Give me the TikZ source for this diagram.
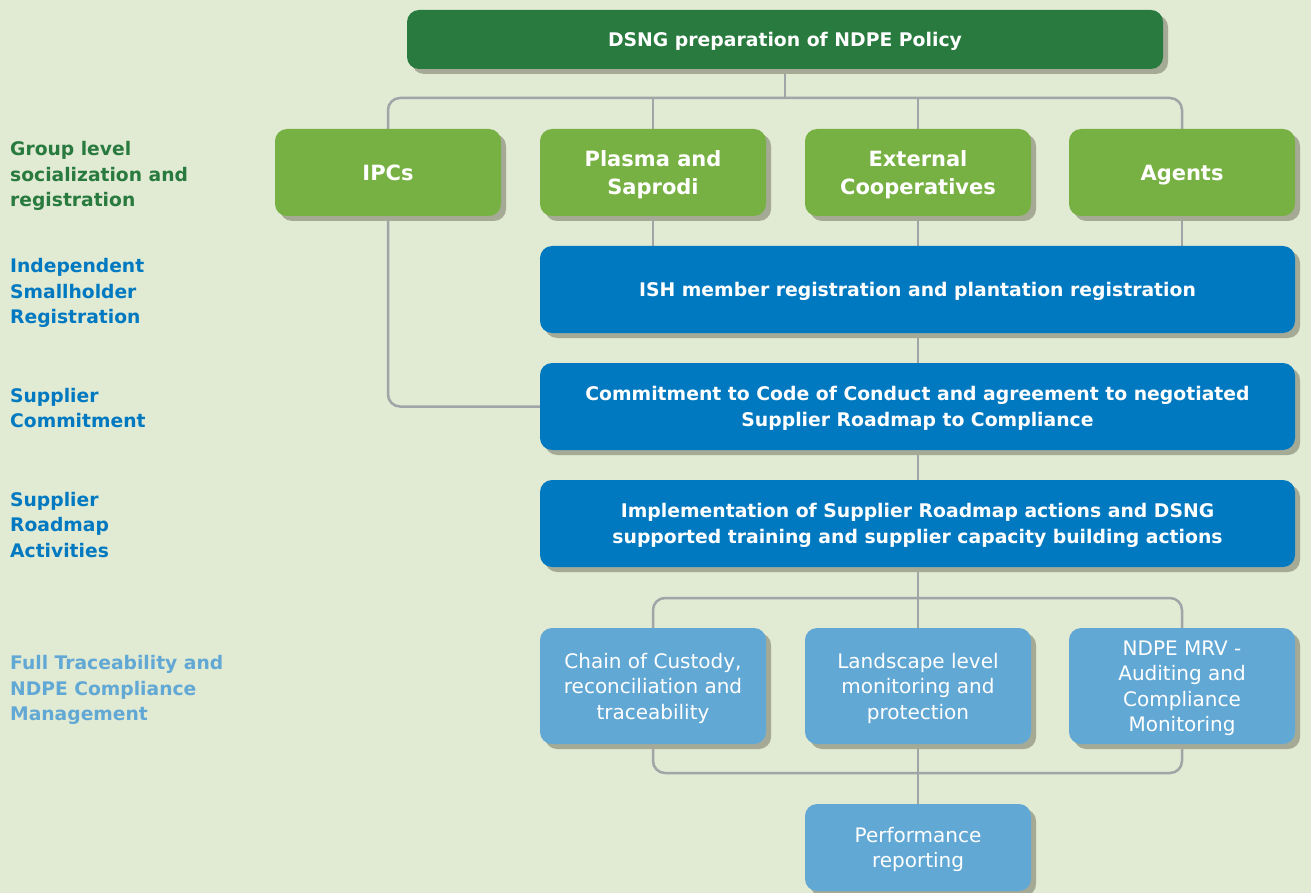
\documentclass[tikz,border=0pt]{standalone}
\usepackage{fontspec}
\setmainfont{DejaVu Sans}
\usepackage{xcolor}
\usetikzlibrary{positioning, shadows, calc}

\definecolor{sage}{HTML}{E1EAD3}
\definecolor{headgreen}{HTML}{287A3E}
\definecolor{leafgreen}{HTML}{78B143}
\definecolor{ocean}{HTML}{0079C1}
\definecolor{sky}{HTML}{62A8D5}
\definecolor{wiregray}{HTML}{A2A5A8}
\definecolor{shade}{HTML}{A5AA97}

\pgfdeclarelayer{canvas}
\pgfdeclarelayer{wires}
\pgfsetlayers{canvas,wires,main}

\begin{document}
\begin{tikzpicture}[
    x=1pt, y=-1pt,
    card/.style={
        rectangle,
        rounded corners=12pt,
        text=white,
        align=center,
        inner sep=0pt,
        text depth=-8pt,
        drop shadow={shadow xshift=5pt, shadow yshift=-5pt, fill=shade, opacity=1}
    },
    headbox/.style={
        card,
        fill=headgreen,
        minimum width=756pt,
        minimum height=59pt,
        font=\bfseries\fontsize{18.8}{25}\selectfont
    },
    groupbox/.style={
        card,
        fill=leafgreen,
        minimum width=226pt,
        minimum height=87pt,
        font=\bfseries\fontsize{21}{28}\selectfont
    },
    stagebox/.style={
        card,
        fill=ocean,
        minimum width=755pt,
        minimum height=87pt,
        font=\bfseries\fontsize{18.8}{26}\selectfont
    },
    taskbox/.style={
        card,
        fill=sky,
        minimum width=226pt,
        minimum height=116pt,
        font=\fontsize{20}{25.5}\selectfont
    },
    lane/.style={
        anchor=west,
        align=left,
        inner sep=0pt,
        font=\bfseries\fontsize{18.7}{25.5}\selectfont
    },
    wire/.style={
        draw=wiregray,
        line width=2.5pt,
        rounded corners=12pt
    }
]

    % =========================================================
    % CANVAS
    % =========================================================
    \useasboundingbox (0,0) rectangle (1311,893);
    \begin{pgfonlayer}{canvas}
        \fill [sage] (0,0) rectangle (1311,893);
    \end{pgfonlayer}

    % =========================================================
    % LEFT-HAND STAGE LABELS
    % =========================================================
    \node [lane, text=headgreen] (lgroup) at (10,176) {Group level\\socialization and\\registration};
    \node [lane, text=ocean] (lish) at (10,293) {Independent\\Smallholder\\Registration};
    \node [lane, text=ocean] (lcommit) at (10,408) {Supplier\\Commitment};
    \node [lane, text=ocean] (lroadmap) at (10,525) {Supplier\\Roadmap\\Activities};
    \node [lane, text=sky] (ltrace) at (10,690) {Full Traceability and\\NDPE Compliance\\Management};

    % =========================================================
    % BOXES
    % =========================================================
    \node [headbox] (head) at (785,39.5) {DSNG preparation of NDPE Policy};

    \node [groupbox] (ipc) at (388,172.5) {IPCs};
    \node [groupbox] (plasma) at (653,172.5) {Plasma and\\Saprodi};
    \node [groupbox] (coop) at (918,172.5) {External\\Cooperatives};
    \node [groupbox] (agents) at (1182,172.5) {Agents};

    \node [stagebox] (ish) at (917.5,289.5) {ISH member registration and plantation registration};
    \node [stagebox] (commit) at (917.5,406.5) {Commitment to Code of Conduct and agreement to negotiated\\Supplier Roadmap to Compliance};
    \node [stagebox] (impl) at (917.5,523.5) {Implementation of Supplier Roadmap actions and DSNG\\supported training and supplier capacity building actions};

    \node [taskbox] (custody) at (653,686) {Chain of Custody,\\reconciliation and\\traceability};
    \node [taskbox] (landscape) at (918,686) {Landscape level\\monitoring and\\protection};
    \node [taskbox] (mrv) at (1182,686) {NDPE MRV -\\Auditing and\\Compliance\\Monitoring};

    \node [taskbox, minimum height=87pt] (perf) at (918,847.5) {Performance\\reporting};

    % =========================================================
    % CONNECTORS
    % =========================================================
    \coordinate (bartop) at (785,98);
    \coordinate (barmid) at (918,598);
    \coordinate (barlow) at (918,773);

    \begin{pgfonlayer}{wires}
        \draw [wire] (head.south) -- (bartop);
        \draw [wire] (ipc.north) |- (agents.north |- bartop) -- (agents.north);
        \draw [wire] (plasma.north) -- (plasma.north |- bartop);
        \draw [wire] (coop.north) -- (coop.north |- bartop);

        \draw [wire] (plasma.south) -- (plasma.south |- ish.north);
        \draw [wire] (coop.south) -- (coop.south |- ish.north);
        \draw [wire] (agents.south) -- (agents.south |- ish.north);
        \draw [wire] (ipc.south) |- (commit.west);

        \draw [wire] (ish.south -| coop.south) -- (commit.north -| coop.south);
        \draw [wire] (commit.south -| coop.south) -- (impl.north -| coop.south);

        \draw [wire] (impl.south -| landscape.north) -- (landscape.north);
        \draw [wire] (custody.north) |- (mrv.north |- barmid) -- (mrv.north);

        \draw [wire] (custody.south) |- (mrv.south |- barlow) -- (mrv.south);
        \draw [wire] (landscape.south) -- (perf.north);
    \end{pgfonlayer}

\end{tikzpicture}
\end{document}
